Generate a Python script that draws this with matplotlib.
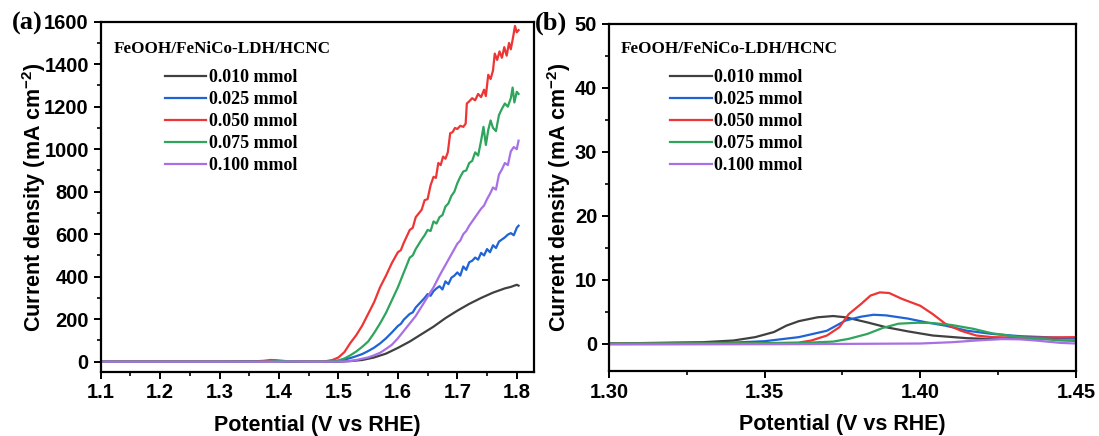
import matplotlib
matplotlib.use("Agg")
import matplotlib.pyplot as plt
from matplotlib.ticker import MultipleLocator, FormatStrFormatter

plt.rcParams['mathtext.fontset'] = 'custom'
plt.rcParams['mathtext.rm'] = 'Liberation Sans:bold'
plt.rcParams['mathtext.default'] = 'rm'

labels = ["0.010 mmol", "0.025 mmol", "0.050 mmol", "0.075 mmol", "0.100 mmol"]
colors = ["#404040", "#1f63d6", "#ee3535", "#2ea45c", "#a870e6"]
title = "FeOOH/FeNiCo-LDH/HCNC"

# panel (a): LSV curves, potential (V) / current density (mA cm-2)
v_010 = [1.10, 1.30, 1.36, 1.375, 1.39, 1.42, 1.50, 1.52, 1.54, 1.56, 1.58, 1.60, 1.62, 1.64,
         1.66, 1.68, 1.70, 1.72, 1.74, 1.76, 1.78, 1.79, 1.80, 1.803]
i_010 = [0, 0, 2, 4, 2, 0, 0, 3, 8, 20, 38, 65, 95, 130,
         165, 205, 240, 272, 300, 325, 345, 352, 362, 358]

v_025 = [1.10, 1.30, 1.37, 1.385, 1.40, 1.45, 1.48, 1.50, 1.51, 1.52, 1.53, 1.54, 1.55, 1.56,
         1.57, 1.58, 1.59, 1.60, 1.605, 1.61, 1.62, 1.625, 1.63, 1.64, 1.645, 1.65, 1.655, 1.66, 1.665,
         1.67, 1.675, 1.68, 1.685, 1.69, 1.695, 1.70, 1.705, 1.71, 1.715, 1.72, 1.725, 1.73,
         1.735, 1.74, 1.745, 1.75, 1.755, 1.76, 1.765, 1.77, 1.775, 1.78, 1.785, 1.79, 1.795,
         1.80, 1.803]
i_025 = [0, 0, 2, 4, 3, 0, 0, 4, 10, 17, 26, 36, 50, 66,
         86, 110, 138, 168, 178, 198, 225, 232, 255, 285, 300, 318, 310, 332, 345,
         355, 340, 378, 365, 395, 405, 420, 405, 448, 432, 468, 475, 490,
         480, 512, 500, 530, 515, 548, 535, 565, 575, 585, 598, 605, 595,
         630, 640]

v_050 = [1.10, 1.30, 1.36, 1.375, 1.385, 1.395, 1.41, 1.43, 1.47, 1.48, 1.49, 1.50, 1.51,
         1.52, 1.53, 1.54, 1.55, 1.56, 1.57, 1.58, 1.59, 1.60, 1.605, 1.61, 1.62, 1.625,
         1.63, 1.64, 1.645, 1.65, 1.655, 1.66, 1.664, 1.668, 1.672, 1.676, 1.68, 1.684,
         1.688, 1.692, 1.696, 1.70, 1.705, 1.71, 1.714, 1.716, 1.72, 1.725, 1.73, 1.735,
         1.74, 1.745, 1.748, 1.752, 1.756, 1.76, 1.763, 1.767, 1.771, 1.775, 1.779, 1.783,
         1.787, 1.79, 1.794, 1.797, 1.80, 1.803]
i_050 = [0, 0, 0, 3, 8, 7, 3, 1, 0, 3, 8, 20, 45,
         88, 125, 170, 225, 280, 350, 405, 465, 515, 525, 560, 620, 630,
         680, 715, 760, 765, 830, 870, 865, 935, 925, 965, 955, 985,
         1075, 1080, 1100, 1095, 1110, 1105, 1120, 1215, 1225, 1240, 1230, 1260,
         1245, 1280, 1250, 1350, 1330, 1370, 1450, 1420, 1460, 1430, 1480, 1440,
         1500, 1470, 1530, 1580, 1550, 1560]

v_075 = [1.10, 1.30, 1.38, 1.40, 1.41, 1.43, 1.46, 1.49, 1.50, 1.51, 1.52, 1.53, 1.54, 1.55,
         1.56, 1.57, 1.58, 1.59, 1.60, 1.61, 1.62, 1.625, 1.63, 1.64, 1.645, 1.65, 1.655,
         1.66, 1.665, 1.67, 1.675, 1.68, 1.685, 1.69, 1.695, 1.70, 1.705, 1.71, 1.715, 1.72,
         1.725, 1.73, 1.735, 1.74, 1.744, 1.748, 1.752, 1.756, 1.76, 1.765, 1.77, 1.775,
         1.78, 1.785, 1.79, 1.793, 1.796, 1.80, 1.803]
i_075 = [0, 0, 0, 3, 3, 1, 0, 2, 6, 15, 30, 48, 70, 95,
         135, 180, 230, 290, 350, 420, 490, 500, 530, 575, 595, 620, 615,
         660, 650, 680, 690, 730, 745, 780, 800, 840, 870, 895, 900, 935,
         945, 985, 970, 1040, 1105, 1020, 1090, 1135, 1100, 1085, 1160, 1190,
         1215, 1200, 1240, 1290, 1220, 1270, 1260]

v_100 = [1.10, 1.30, 1.40, 1.42, 1.43, 1.45, 1.50, 1.52, 1.53, 1.54, 1.55, 1.56, 1.57, 1.58,
         1.59, 1.60, 1.61, 1.62, 1.63, 1.64, 1.65, 1.66, 1.67, 1.68, 1.69, 1.70, 1.705, 1.71,
         1.715, 1.72, 1.73, 1.74, 1.745, 1.75, 1.755, 1.76, 1.765, 1.77, 1.775, 1.78, 1.785,
         1.79, 1.795, 1.80, 1.803]
i_100 = [0, 0, 0, 1, 1, 0, 0, 3, 8, 14, 20, 30, 42, 60,
         80, 110, 145, 180, 215, 260, 305, 350, 405, 455, 505, 555, 570, 600,
         615, 640, 680, 720, 735, 765, 790, 820, 810, 880, 905, 935, 925,
         990, 1010, 1000, 1040]

# panel (b): zoom of the pre-oxidation peaks
vb_010 = [1.30, 1.33, 1.34, 1.347, 1.353, 1.357, 1.361, 1.367, 1.372, 1.376, 1.383, 1.389,
          1.396, 1.404, 1.415, 1.423, 1.435, 1.45]
ib_010 = [0.0, 0.2, 0.47, 1.0, 1.8, 2.8, 3.5, 4.1, 4.3, 4.1, 3.3, 2.55,
          1.9, 1.25, 0.83, 0.7, 0.75, 0.8]
vb_025 = [1.30, 1.34, 1.35, 1.361, 1.37, 1.376, 1.381, 1.385, 1.389, 1.396, 1.402, 1.408,
          1.415, 1.423, 1.432, 1.445, 1.45]
ib_025 = [0.0, 0.15, 0.36, 1.0, 2.0, 3.6, 4.2, 4.5, 4.4, 3.9, 3.3, 2.8,
          2.0, 1.5, 1.15, 0.9, 0.85]
vb_050 = [1.30, 1.35, 1.361, 1.365, 1.37, 1.374, 1.377, 1.381, 1.384, 1.387, 1.390, 1.394,
          1.400, 1.404, 1.408, 1.413, 1.418, 1.423, 1.435, 1.45]
ib_050 = [0.0, 0.05, 0.15, 0.47, 1.25, 2.55, 4.6, 6.2, 7.5, 8.0, 7.9, 7.0,
          5.9, 4.6, 3.1, 2.0, 1.25, 1.0, 0.9, 1.0]
vb_075 = [1.30, 1.36, 1.372, 1.377, 1.383, 1.388, 1.393, 1.399, 1.404, 1.41, 1.417, 1.423,
          1.432, 1.445, 1.45]
ib_075 = [0.0, 0.05, 0.3, 0.73, 1.5, 2.45, 3.1, 3.25, 3.2, 2.9, 2.3, 1.6,
          1.0, 0.47, 0.4]
vb_100 = [1.30, 1.36, 1.40, 1.41, 1.418, 1.426, 1.432, 1.437, 1.445, 1.45]
ib_100 = [-0.15, -0.1, 0.0, 0.2, 0.47, 0.7, 0.65, 0.47, 0.1, 0.0]

curves_a = [(v_010, i_010), (v_025, i_025), (v_050, i_050), (v_075, i_075), (v_100, i_100)]
curves_b = [(vb_010, ib_010), (vb_025, ib_025), (vb_050, ib_050), (vb_075, ib_075), (vb_100, ib_100)]

fig = plt.figure(figsize=(10.99, 4.36), dpi=100)
ax1 = fig.add_axes([0.0916, 0.1475, 0.3943, 0.8028])
ax2 = fig.add_axes([0.5541, 0.1491, 0.4250, 0.7960])

sans = {'family': 'Liberation Sans', 'weight': 'bold'}
serif = {'family': 'Liberation Serif', 'weight': 'bold'}

for ax, curves, pad in ((ax1, curves_a, -3), (ax2, curves_b, 1)):
    for (x, y), c, lab in zip(curves, colors, labels):
        ax.plot(x, y, color=c, lw=1.6, label=lab)
    for s in ax.spines.values():
        s.set_linewidth(1.6)
    ax.tick_params(which='major', direction='out', length=5, width=1.4, labelsize=14.5)
    ax.tick_params(which='minor', direction='out', length=3, width=1.2)
    for t in ax.get_xticklabels() + ax.get_yticklabels():
        t.set_fontfamily('Liberation Sans')
        t.set_fontweight('bold')
    ax.set_xlabel("Potential (V vs RHE)", fontdict=sans, fontsize=15.5, labelpad=9)
    ax.set_ylabel("Current density (mA cm$^{-2}$)", fontdict=sans, fontsize=15.5, labelpad=pad)
    ax.legend(loc='upper left', frameon=False, prop={'family': 'Liberation Serif', 'weight': 'bold', 'size': 13},
              handlelength=2.3, handletextpad=0.15, labelspacing=0.28, borderpad=0, borderaxespad=0)

ax1.set_xlim(1.1, 1.829)
ax1.set_ylim(-47, 1600)
ax1.xaxis.set_major_locator(MultipleLocator(0.1))
ax1.xaxis.set_minor_locator(MultipleLocator(0.05))
ax1.yaxis.set_major_locator(MultipleLocator(200))
ax1.yaxis.set_minor_locator(MultipleLocator(100))
ax1.xaxis.set_major_formatter(FormatStrFormatter('%.1f'))

ax2.set_xlim(1.30, 1.45)
ax2.set_ylim(-4.3, 50)
ax2.xaxis.set_major_locator(MultipleLocator(0.05))
ax2.xaxis.set_minor_locator(MultipleLocator(0.025))
ax2.yaxis.set_major_locator(MultipleLocator(10))
ax2.yaxis.set_minor_locator(MultipleLocator(5))
ax2.xaxis.set_major_formatter(FormatStrFormatter('%.2f'))

ax1.get_legend().set_bbox_to_anchor((0.148, 0.865), transform=ax1.transAxes)
ax2.get_legend().set_bbox_to_anchor((0.131, 0.870), transform=ax2.transAxes)

ax1.text(0.031, 0.922, title, transform=ax1.transAxes, fontdict=serif, fontsize=12.3, va='center')
ax2.text(0.026, 0.928, title, transform=ax2.transAxes, fontdict=serif, fontsize=12.3, va='center')

fig.text(27 / 1099, 1 - 23 / 436, "(a)", fontdict=serif, fontsize=19, ha='center', va='center')
fig.text(551 / 1099, 1 - 23 / 436, "(b)", fontdict=serif, fontsize=19, ha='center', va='center')

fig.savefig("out.png", dpi=100)
